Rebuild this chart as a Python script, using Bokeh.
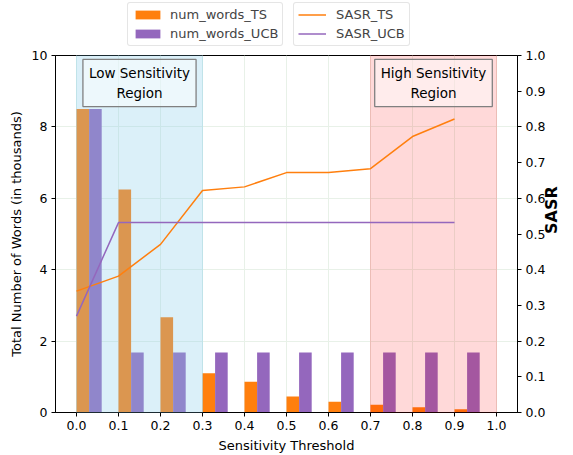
import math
from bokeh.plotting import figure
from bokeh.layouts import column
from bokeh.models import (Range1d, LinearAxis, FixedTicker, PrintfTickFormatter,
                          BoxAnnotation, Label, Legend, LegendItem, ColumnDataSource)
from bokeh.embed import file_html
from bokeh.resources import INLINE

# ---- data ----
thresholds = [0.0, 0.1, 0.2, 0.3, 0.4, 0.5, 0.6, 0.7, 0.8, 0.9]
num_words_TS = [8.5, 6.25, 2.67, 1.1, 0.86, 0.45, 0.3, 0.22, 0.15, 0.09]
num_words_UCB = [8.5, 1.68, 1.68, 1.68, 1.68, 1.68, 1.68, 1.68, 1.68, 1.68]
SASR_TS = [0.34, 0.382, 0.471, 0.622, 0.632, 0.672, 0.672, 0.683, 0.773, 0.822]
SASR_UCB = [0.27, 0.532, 0.532, 0.532, 0.532, 0.532, 0.532, 0.532, 0.532, 0.532]
x_ticks = [0.0, 0.1, 0.2, 0.3, 0.4, 0.5, 0.6, 0.7, 0.8, 0.9, 1.0]
left_ticks = [0, 2, 4, 6, 8, 10]
right_ticks = [0.0, 0.1, 0.2, 0.3, 0.4, 0.5, 0.6, 0.7, 0.8, 0.9, 1.0]
low_region = (0.0, 0.3)
high_region = (0.7, 1.0)

BAR_W = 0.03
ORANGE = "#ff7f0e"
PURPLE = "#9467bd"
FONT = "DejaVu Sans"
W = 573
LEG_H = 47
FRAME_LEFT = 55

# ---------- main plot ----------
p = figure(width=W, height=455 - LEG_H, output_backend="svg", toolbar_location=None,
           x_range=Range1d(-0.05, 1.05), y_range=Range1d(0, 10),
           min_border_left=FRAME_LEFT, min_border_top=55 - LEG_H, min_border_right=48,
           min_border_bottom=43)
p.extra_y_ranges = {"sasr": Range1d(0, 1)}

src = ColumnDataSource(dict(
    x_ts=[t + BAR_W / 2 for t in thresholds],
    x_ucb=[t + BAR_W * 1.5 for t in thresholds],
    ts=num_words_TS, ucb=num_words_UCB, t=thresholds,
    s_ts=SASR_TS, s_ucb=SASR_UCB))

p.vbar(x="x_ts", top="ts", width=BAR_W, source=src, fill_color=ORANGE, line_color=None)
p.vbar(x="x_ucb", top="ucb", width=BAR_W, source=src, fill_color=PURPLE, line_color=None)

for lo_hi, col, a in [(low_region, "skyblue", 0.3), (high_region, "red", 0.15)]:
    p.add_layout(BoxAnnotation(left=lo_hi[0], right=lo_hi[1], fill_color=col, fill_alpha=a,
                               line_color=col, line_alpha=a, line_width=1))

p.line(x="t", y="s_ts", source=src, y_range_name="sasr", line_color=ORANGE, line_width=1.5, level="overlay")
p.line(x="t", y="s_ucb", source=src, y_range_name="sasr", line_color=PURPLE, line_width=1.5, level="overlay")

# axes
p.xaxis.ticker = FixedTicker(ticks=x_ticks)
p.xaxis.formatter = PrintfTickFormatter(format="%.1f")
p.yaxis.ticker = FixedTicker(ticks=left_ticks)
p.xaxis.axis_label = "Sensitivity Threshold"
p.yaxis.axis_label = "Total Number of Words (in thousands)"

ax2 = LinearAxis(y_range_name="sasr", ticker=FixedTicker(ticks=right_ticks),
                 formatter=PrintfTickFormatter(format="%.1f"), axis_label="SASR")
p.add_layout(ax2, "right")

for ax in [p.xaxis[0], p.yaxis[0], ax2]:
    ax.major_label_text_font = FONT
    ax.major_label_text_font_size = "12.5px"
    ax.major_label_text_color = "black"
    ax.axis_label_text_font = FONT
    ax.axis_label_text_font_size = "13px"
    ax.axis_label_text_color = "black"
    ax.axis_label_text_font_style = "normal"
    ax.axis_line_color = "black"
    ax.major_tick_line_color = "black"
    ax.major_tick_out = 4
    ax.major_tick_in = 0
    ax.minor_tick_line_color = None
    ax.axis_label_standoff = 5
    ax.major_label_standoff = 4
ax2.axis_label_text_font_style = "bold"
ax2.axis_label_text_font_size = "16px"
ax2.axis_label_orientation = math.pi / 2
ax2.axis_label_standoff = 3
ax2.major_label_standoff = 4

p.xgrid.grid_line_color = "#e8f1e8"
p.ygrid.grid_line_color = "#e8f1e8"
p.xgrid.ticker = FixedTicker(ticks=x_ticks)
p.ygrid.ticker = FixedTicker(ticks=left_ticks)
p.outline_line_color = "black"
p.outline_line_alpha = 1.0

# region labels
for xc, txt in [(sum(low_region) / 2, "Low Sensitivity\nRegion"), (sum(high_region) / 2, "High Sensitivity\nRegion")]:
    p.add_layout(Label(x=xc, y=9.23, text=txt, text_align="center", text_baseline="middle",
                       text_font=FONT, text_font_size="13.5px", text_color="black",
                       background_fill_color="white", background_fill_alpha=0.5,
                       border_line_color="gray", border_line_width=1.3, padding=6))

# ---------- legend strip (above the axes, as in the reference) ----------
lf = figure(width=W, height=LEG_H, output_backend="svg", toolbar_location=None,
            x_range=Range1d(0, 1), y_range=Range1d(0, 1),
            x_axis_location=None, y_axis_location=None,
            min_border_left=0, min_border_right=0, min_border_top=0, min_border_bottom=0)
lf.grid.visible = False
lf.outline_line_color = None
# legend proxies: points placed outside the visible range
proxy = ColumnDataSource(dict(x=[-5, -6], y=[-5, -6], top=[-5, -6]))
lb_ts = lf.vbar(x="x", top="top", width=0.1, source=proxy, fill_color=ORANGE, line_color=None)
lb_ucb = lf.vbar(x="x", top="top", width=0.1, source=proxy, fill_color=PURPLE, line_color=None)
ll_ts = lf.line(x="x", y="y", source=proxy, line_color=ORANGE, line_width=1.5)
ll_ucb = lf.line(x="x", y="y", source=proxy, line_color=PURPLE, line_width=1.5)


def mk_legend(items, page_x, gw, standoff):
    # the column layout aligns this strip's frame with the main plot frame
    lg = Legend(items=items, location=(page_x - FRAME_LEFT, 1), label_text_font=FONT,
                label_text_font_size="13px",
                glyph_width=gw, glyph_height=11, spacing=4, padding=4, margin=0,
                label_standoff=standoff, border_line_color="#cccccc", border_radius=3,
                background_fill_alpha=0.8)
    lf.add_layout(lg, "center")


mk_legend([LegendItem(label="num_words_TS", renderers=[lb_ts]),
           LegendItem(label="num_words_UCB", renderers=[lb_ucb])], 127, 31, 7)
mk_legend([LegendItem(label="SASR_TS", renderers=[ll_ts]),
           LegendItem(label="SASR_UCB", renderers=[ll_ucb])], 293, 28, 10)

page = column(lf, p, spacing=0)
open("out.html", "w").write(file_html(page, INLINE))
